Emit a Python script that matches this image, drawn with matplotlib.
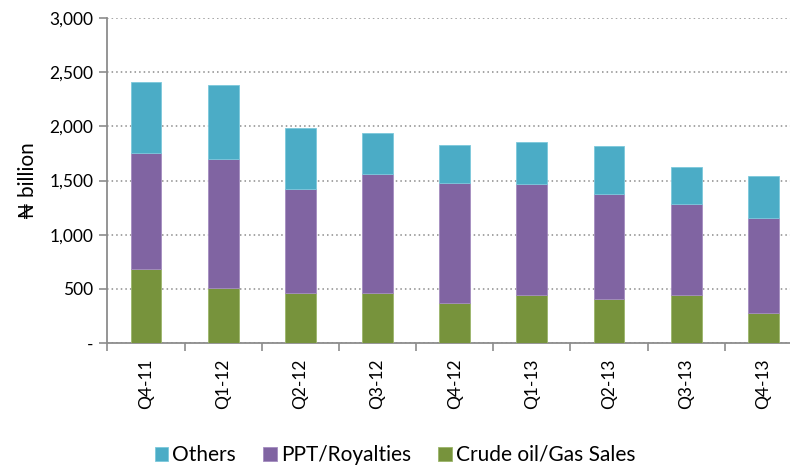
import matplotlib.pyplot as plt
import matplotlib.ticker as ticker
import numpy as np

quarters = ['Q4-11', 'Q1-12', 'Q2-12', 'Q3-12', 'Q4-12', 'Q1-13', 'Q2-13', 'Q3-13', 'Q4-13']
crude_gas = [686, 508, 459, 459, 369, 443, 406, 443, 277]
ppt_royalties = [1071, 1193, 960, 1104, 1105, 1028, 972, 838, 880]
others = [655, 677, 566, 375, 351, 381, 440, 343, 384]

plt.rcParams['font.family'] = ['Lato', 'DejaVu Sans']

fig = plt.figure(figsize=(7.9, 4.68), dpi=100)
ax = fig.add_axes([0.136, 0.267, 0.879, 0.6945])

x = np.arange(len(quarters))
w = 0.4
crude_gas = np.array(crude_gas)
ppt_royalties = np.array(ppt_royalties)
others = np.array(others)

ax.bar(x, crude_gas, w, color='#77933C', edgecolor='#9bb56a', linewidth=0.6,
       label='Crude oil/Gas Sales', zorder=3)
ax.bar(x, ppt_royalties, w, bottom=crude_gas, color='#8064A2', edgecolor='#a48cc0',
       linewidth=0.6, label='PPT/Royalties', zorder=3)
ax.bar(x, others, w, bottom=crude_gas + ppt_royalties, color='#4BACC6',
       edgecolor='#7cc8dc', linewidth=0.6, label='Others', zorder=3)

# y-axis
ax.set_ylim(0, 3000)
ax.set_yticks(np.arange(0, 3001, 500))
ax.yaxis.set_major_formatter(ticker.FuncFormatter(
    lambda v, _: '-' if v == 0 else '{:,.0f}'.format(v)))
ax.set_ylabel('₦ billion', fontsize=15, labelpad=8)
ax.yaxis.grid(True, linestyle=(0, (1, 2)), color='#8c8c8c', linewidth=1.1, zorder=0)

# x-axis: ticks between categories, labels centred
ax.set_xlim(-0.5, len(quarters) - 0.5)
ax.set_xticks(x)
ax.set_xticklabels(quarters, rotation=90, fontsize=12.5)
ax.set_xticks(np.arange(-0.5, len(quarters), 1), minor=True)
ax.tick_params(axis='x', which='major', length=0, pad=11)
ax.tick_params(axis='x', which='minor', length=6, color='#8c8c8c', width=1.2)
ax.tick_params(axis='y', length=6, color='#8c8c8c', width=1.2, labelsize=12.5, pad=4)

for side in ['top', 'right']:
    ax.spines[side].set_visible(False)
for side in ['left', 'bottom']:
    ax.spines[side].set_color('#8c8c8c')
    ax.spines[side].set_linewidth(1.3)

handles, labels = ax.get_legend_handles_labels()
fig.legend(handles[::-1], labels[::-1], loc='center', bbox_to_anchor=(0.5, 0.028),
           ncol=3, frameon=False, fontsize=15, handlelength=0.65, handleheight=0.65,
           handletextpad=0.2, columnspacing=1.3)

plt.savefig('out.png', dpi=100)
